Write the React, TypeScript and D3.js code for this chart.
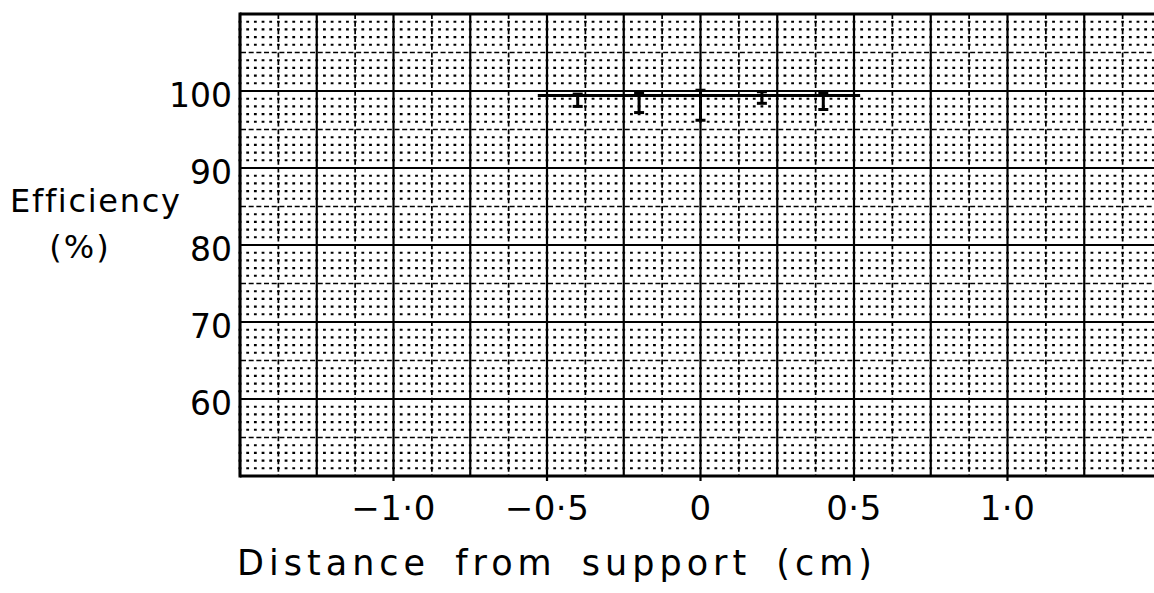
import React from "react";
import * as d3 from "d3";

// Measurement positions along the sample and the efficiency range at each
const positions = [-0.4, -0.2, 0, 0.2, 0.4];
const lowValues = [98.0, 97.2, 96.2, 98.4, 97.6];
const highValues = [99.6, 99.8, 100.1, 99.9, 99.8];

// Mean efficiency line across the scanned region
const meanEfficiency = 99.4;
const meanStart = -0.53;
const meanEnd = 0.52;

// Axis ticks
const xTicks = [-1, -0.5, 0, 0.5, 1];
const xTickLabels = ["−1·0", "−0·5", "0", "0·5", "1·0"];
const yTicks = [60, 70, 80, 90, 100];
const yTickLabels = ["60", "70", "80", "90", "100"];

const W = 1154;
const H = 593;
const FONT = "'DejaVu Sans', sans-serif";

export default function App() {
  const x = d3.scaleLinear().domain([-1.5, 1.5]).range([240, 1161]);
  const y = d3.scaleLinear().domain([50, 110]).range([476, 14]);
  const [x0, x1] = x.range();
  const [yb, yt] = y.range();

  // graph-paper rulings
  const xMajor = d3.range(-1.5, 1.5001, 0.25);
  const xMid = d3.range(-1.375, 1.5, 0.25);
  const yMajor = d3.range(50, 110.001, 10);
  const yMid = d3.range(55, 110, 10);
  const yFine = d3.range(51, 110, 1).filter((v) => v % 5 !== 0);
  const fineStep = x(0.025) - x(0);
  const dot = 2.8;

  return (
    <svg
      width={W}
      height={H}
      style={{ position: "absolute", left: 0, top: 0, background: "#fff" }}
    >
      <rect x={0} y={0} width={W} height={H} fill="#fff" />
      {/* fine dotted rows: dots at every fine intersection */}
      <g stroke="#000" strokeWidth={2.1}>
        {yFine.map((v) => (
          <line
            key={`f${v}`}
            x1={x0 - dot / 2}
            x2={x1}
            y1={y(v)}
            y2={y(v)}
            strokeDasharray={`${dot} ${fineStep - dot}`}
          />
        ))}
      </g>
      {/* dashed half-divisions */}
      <g stroke="#000" strokeWidth={1.7}>
        {xMid.map((v) => (
          <line
            key={`xm${v}`}
            x1={x(v)}
            x2={x(v)}
            y1={yt}
            y2={yb}
            strokeDasharray={`5 ${fineStep - 5}`}
          />
        ))}
        {yMid.map((v) => (
          <line
            key={`ym${v}`}
            x1={x0}
            x2={x1}
            y1={y(v)}
            y2={y(v)}
            strokeDasharray={`5 ${fineStep - 5}`}
            strokeDashoffset={-1}
          />
        ))}
      </g>
      {/* solid major divisions */}
      <g stroke="#000" strokeWidth={2.2}>
        {xMajor.map((v) => (
          <line key={`xM${v}`} x1={x(v)} x2={x(v)} y1={yt} y2={yb} />
        ))}
        {yMajor.map((v) => (
          <line key={`yM${v}`} x1={x0} x2={x1} y1={y(v)} y2={y(v)} />
        ))}
      </g>
      {/* frame */}
      <g stroke="#000" strokeWidth={3} fill="none">
        <line x1={x0} x2={x0} y1={yt - 1.5} y2={yb + 1.5} />
        <line x1={x0} x2={x1} y1={yt} y2={yt} />
        <line x1={x0} x2={x1} y1={yb} y2={yb} />
      </g>
      {/* x ticks */}
      <g stroke="#000" strokeWidth={2.2}>
        {xTicks.map((v) => (
          <line key={`xt${v}`} x1={x(v)} x2={x(v)} y1={yb} y2={yb + 5} />
        ))}
      </g>

      {/* mean line */}
      <line
        x1={x(meanStart)}
        x2={x(meanEnd)}
        y1={y(meanEfficiency)}
        y2={y(meanEfficiency)}
        stroke="#000"
        strokeWidth={3}
      />
      {/* error bars */}
      <g stroke="#000" strokeWidth={3}>
        {positions.map((p, i) => {
          const cx = x(p);
          const top = y(highValues[i]);
          const bot = y(lowValues[i]);
          return (
            <g key={`eb${p}`}>
              <line x1={cx} x2={cx} y1={top} y2={bot} />
              <line x1={cx - 5} x2={cx + 5} y1={top} y2={top} />
              <line x1={cx - 5} x2={cx + 5} y1={bot} y2={bot} />
            </g>
          );
        })}
      </g>

      {/* y tick labels */}
      <g fontFamily={FONT} fontSize={33} fill="#000" textAnchor="end">
        {yTicks.map((v, i) => (
          <text key={`yl${v}`} x={232} y={y(v) + 16}>
            {yTickLabels[i]}
          </text>
        ))}
      </g>
      {/* x tick labels */}
      <g fontFamily={FONT} fontSize={34} fill="#000" textAnchor="middle">
        {xTicks.map((v, i) => (
          <text key={`xl${v}`} x={x(v)} y={520} letterSpacing={0.5}>
            {xTickLabels[i]}
          </text>
        ))}
      </g>
      {/* axis titles */}
      <g fontFamily={FONT} fill="#000">
        <text x={10} y={212} fontSize={32} letterSpacing={1.7}>
          Efficiency
        </text>
        <text x={80} y={258} fontSize={32} textAnchor="middle" letterSpacing={2}>
          (%)
        </text>
        <text
          x={557}
          y={575}
          fontSize={35}
          textAnchor="middle"
          letterSpacing={5}
          wordSpacing={9}
        >
          Distance from support (cm)
        </text>
      </g>
    </svg>
  );
}
